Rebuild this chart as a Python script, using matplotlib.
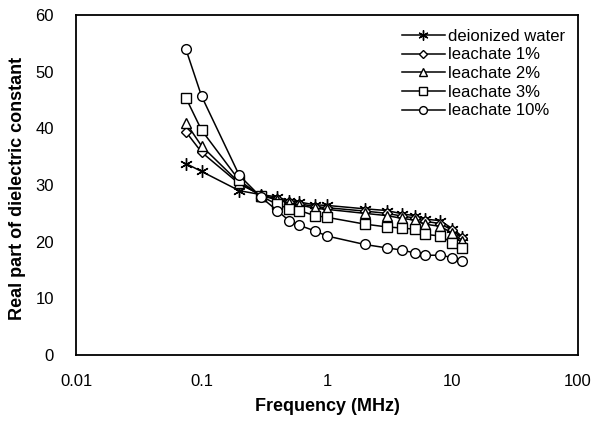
import matplotlib.pyplot as plt

plt.rcParams.update({
    "font.size": 12,
    "font.family": ["Liberation Sans", "DejaVu Sans"],
})

# frequencies (MHz)
freq = [0.075, 0.1, 0.2, 0.3, 0.4, 0.5, 0.6, 0.8, 1, 2, 3, 4, 5, 6, 8, 10, 12]

# real part of dielectric constant
water = [33.8, 32.4, 29.0, 28.3, 27.9, 27.2, 27.0, 26.5, 26.4, 25.8, 25.5, 24.9, 24.6, 24.0, 23.7, 22.3, 20.9]
leach1 = [39.4, 35.8, 30.2, 28.2, 27.6, 27.0, 26.7, 26.2, 26.0, 25.4, 25.0, 24.5, 24.2, 23.6, 23.2, 22.0, 20.6]
leach2 = [41.0, 36.9, 30.4, 28.1, 27.4, 26.8, 26.5, 25.9, 25.7, 25.0, 24.6, 24.1, 23.8, 23.1, 22.7, 21.5, 20.2]
leach3 = [45.4, 39.7, 30.8, 28.0, 26.6, 25.8, 25.5, 24.6, 24.3, 23.1, 22.6, 22.4, 22.2, 21.3, 21.0, 19.8, 18.8]
leach10 = [54.0, 45.7, 31.7, 27.8, 25.5, 23.7, 22.9, 21.9, 21.0, 19.5, 18.9, 18.5, 18.0, 17.6, 17.6, 17.2, 16.6]

labels = ["deionized water", "leachate 1%", "leachate 2%", "leachate 3%", "leachate 10%"]
series = [water, leach1, leach2, leach3, leach10]
markers = [(6, 2, 0), "D", "^", "s", "o"]
msizes = [9, 5, 7, 7, 7]

fig = plt.figure(figsize=(5.95, 4.21), dpi=100)
ax = fig.add_axes([0.128, 0.157, 0.843, 0.807])

for y, lab, mk, ms in zip(series, labels, markers, msizes):
    ax.plot(
        freq,
        y,
        color="black",
        linewidth=1.1,
        marker=mk,
        markersize=ms,
        markerfacecolor="white",
        markeredgecolor="black",
        markeredgewidth=1.0,
        label=lab,
    )

ax.set_xscale("log")
ax.set_xlim(0.01, 100)
ax.set_ylim(0, 60)
ax.set_xticks([0.01, 0.1, 1, 10, 100])
ax.set_xticklabels(["0.01", "0.1", "1", "10", "100"])
ax.set_yticks(range(0, 61, 10))
ax.minorticks_off()
ax.tick_params(axis="x", length=0, pad=14, labelsize=12)
ax.tick_params(axis="y", length=0, pad=16, labelsize=12)

for sp in ax.spines.values():
    sp.set_linewidth(1.3)

ax.set_xlabel("Frequency (MHz)", fontweight="bold", fontsize=13)
ax.set_ylabel("Real part of dielectric constant", fontweight="bold", fontsize=13)
ax.xaxis.set_label_coords(0.5, -0.128)
ax.yaxis.set_label_coords(-0.1, 0.49)

ax.legend(
    loc="upper left",
    bbox_to_anchor=(0.649, 0.96),
    frameon=False,
    handlelength=2.6,
    handletextpad=0.2,
    labelspacing=0.22,
    fontsize=12,
    borderpad=0,
    borderaxespad=0,
    markerscale=0.8,
)

plt.savefig("out.png", dpi=100)
